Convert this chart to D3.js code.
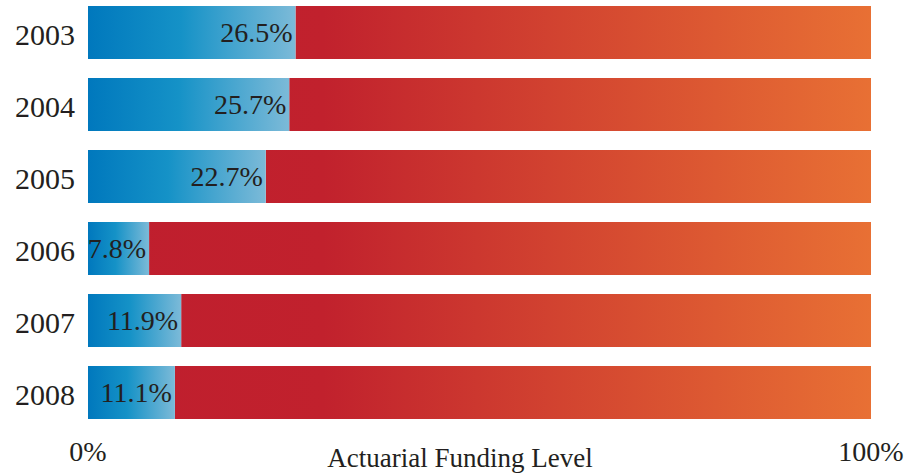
<!DOCTYPE html>
<html><head><meta charset="utf-8">
<script src="https://cdn.jsdelivr.net/npm/d3@7"></script>
<style>html,body{margin:0;padding:0;background:#fff;}svg{display:block;}</style>
</head><body>
<svg id="chart" width="907" height="474"></svg>
<script>
const years = ["2003","2004","2005","2006","2007","2008"];
const funding = [26.5, 25.7, 22.7, 7.8, 11.9, 11.1];
const tickLabels = ["0%","100%"];
const axisTitle = "Actuarial Funding Level";

const svg = d3.select("#chart");
const x = d3.scaleLinear().domain([0,100]).range([88,871]);
const y = d3.scaleBand().domain(years).range([6,419]).paddingInner(19/72).paddingOuter(0);

const defs = svg.append("defs");
const blue = defs.append("linearGradient").attr("id","gBlue").attr("x1","0").attr("x2","1").attr("y1","0").attr("y2","0");
blue.append("stop").attr("offset","0%").attr("stop-color","#0078bd");
blue.append("stop").attr("offset","45%").attr("stop-color","#1592c7");
blue.append("stop").attr("offset","100%").attr("stop-color","#7cbad8");
const red = defs.append("linearGradient").attr("id","gRed").attr("gradientUnits","userSpaceOnUse")
  .attr("x1",x(0)).attr("x2",x(100)).attr("y1",0).attr("y2",0);
red.append("stop").attr("offset","0%").attr("stop-color","#bf1e2e");
red.append("stop").attr("offset","30%").attr("stop-color","#c1212d");
red.append("stop").attr("offset","100%").attr("stop-color","#e87034");

const rows = svg.selectAll("g.row").data(years.map((yr,i)=>({yr, v:funding[i]}))).join("g").attr("class","row");

rows.append("rect")
  .attr("x", d=>x(d.v)).attr("y", d=>y(d.yr))
  .attr("width", d=>x(100)-x(d.v)).attr("height", y.bandwidth())
  .attr("fill","url(#gRed)");
rows.append("rect")
  .attr("x", x(0)).attr("y", d=>y(d.yr))
  .attr("width", d=>x(d.v)-x(0)).attr("height", y.bandwidth())
  .attr("fill","url(#gBlue)");

const serif = "'Liberation Serif','Times New Roman',serif";
rows.append("text")
  .attr("x", d=>x(d.v)-3).attr("y", d=>y(d.yr)+y.bandwidth()/2)
  .attr("dy","0.33em").attr("text-anchor","end")
  .attr("font-family",serif).attr("font-size",28).attr("fill","#231f20")
  .text(d=>d.v.toFixed(1)+"%");

rows.append("text")
  .attr("x", 75).attr("y", d=>y(d.yr)+y.bandwidth()/2)
  .attr("dy","0.42em").attr("text-anchor","end")
  .attr("font-family",serif).attr("font-size",30).attr("fill","#231f20")
  .text(d=>d.yr);

svg.selectAll("text.tick").data([0,100]).join("text").attr("class","tick")
  .attr("x", d=>x(d)).attr("y", 461).attr("text-anchor","middle")
  .attr("font-family",serif).attr("font-size",28).attr("fill","#231f20")
  .text((d,i)=>tickLabels[i]);

svg.append("text").attr("x", 460).attr("y", 467).attr("text-anchor","middle")
  .attr("font-family",serif).attr("font-size",27).attr("fill","#231f20")
  .text(axisTitle);
</script>
</body></html>
